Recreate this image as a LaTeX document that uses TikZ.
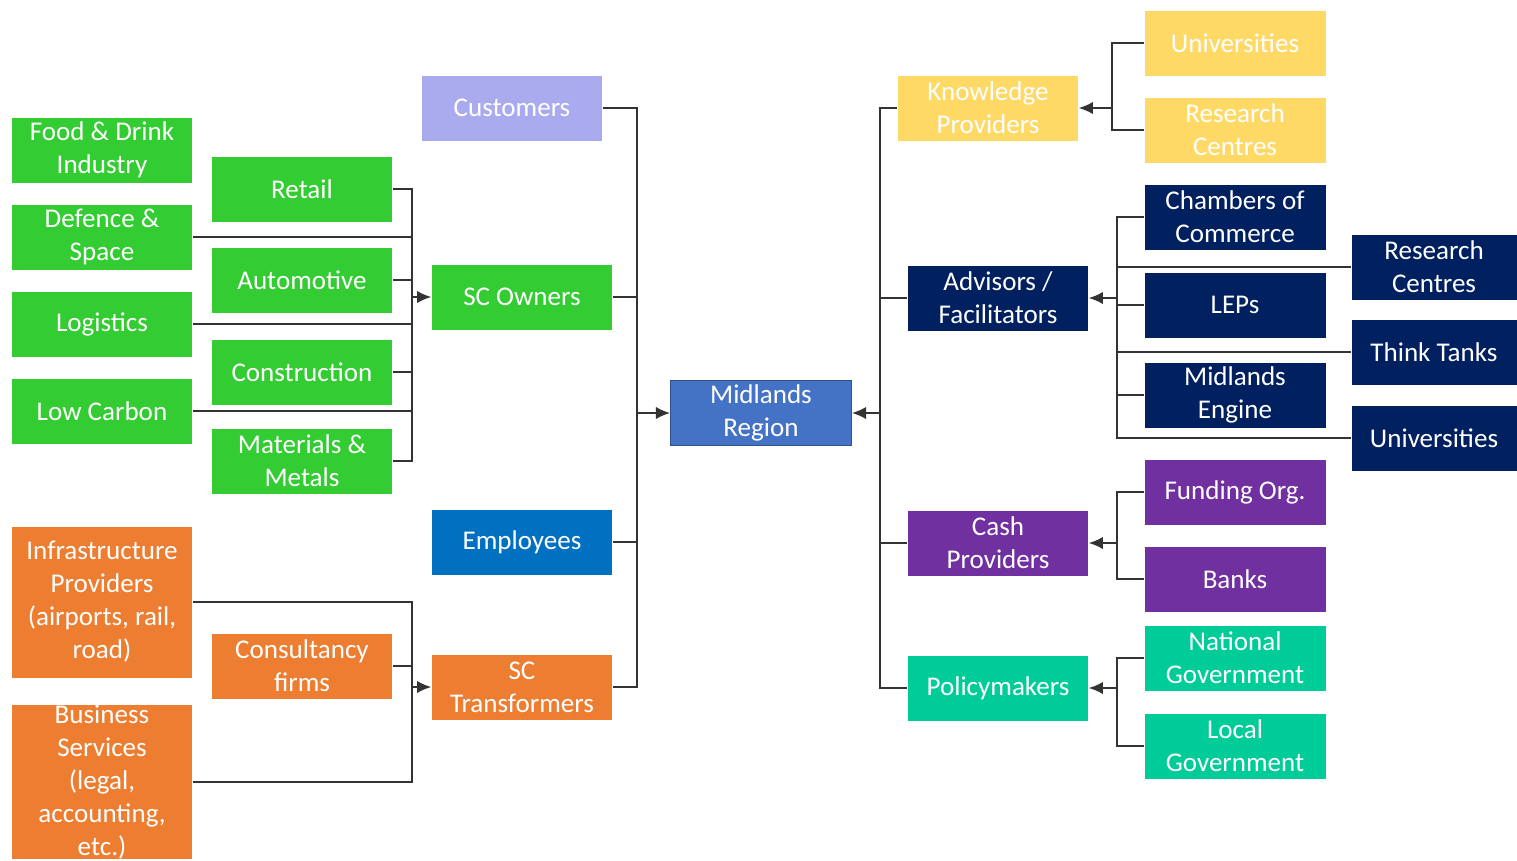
\documentclass[tikz,border=0pt]{standalone}
\usepackage{fontspec}
\setmainfont{Carlito}
\usetikzlibrary{arrows.meta}
\definecolor{scgreen}{RGB}{51,204,51}
\definecolor{sclav}{RGB}{170,170,238}
\definecolor{scblue}{RGB}{0,112,192}
\definecolor{scorange}{RGB}{237,125,49}
\definecolor{scregion}{RGB}{68,114,196}
\definecolor{scregionline}{RGB}{47,82,143}
\definecolor{scyellow}{RGB}{255,217,102}
\definecolor{scnavy}{RGB}{0,32,96}
\definecolor{scpurple}{RGB}{112,48,160}
\definecolor{scteal}{RGB}{0,204,153}
\begin{document}
\begin{tikzpicture}[x=0.02cm,y=0.02cm,
  box/.style={minimum width=3.62cm,minimum height=1.3cm,inner sep=0pt,
    align=center,text=white,font=\fontsize{15.4}{18.8}\selectfont},
  conn/.style={draw=black!80,line width=0.9pt},
  tip/.style={-{Latex[length=8pt,width=7pt]}}]
\useasboundingbox (0,0) rectangle (1517,-860);
% sectors
\node[box,fill=scgreen] (food) at (102,-150) {Food \& Drink\\Industry};
\node[box,fill=scgreen] (defence) at (102,-237) {Defence \&\\Space};
\node[box,fill=scgreen] (logistics) at (102,-324) {Logistics};
\node[box,fill=scgreen] (lowcarbon) at (102,-411) {Low Carbon};
\node[box,fill=scorange,minimum height=3.02cm] (infra) at (102,-602) {Infrastructure\\Providers\\(airports, rail,\\road)};
\node[box,fill=scorange,minimum height=3.04cm] (business) at (102,-782) {Business\\Services\\(legal,\\accounting,\\etc.)};
\node[box,fill=scgreen] (retail) at (302,-189) {Retail};
\node[box,fill=scgreen] (auto) at (302,-280) {Automotive};
\node[box,fill=scgreen] (construction) at (302,-372) {Construction};
\node[box,fill=scgreen] (metals) at (302,-461) {Materials \&\\Metals};
\node[box,fill=scorange] (consult) at (302,-666) {Consultancy\\firms};
% supply chain
\node[box,fill=sclav] (customers) at (512,-108) {Customers};
\node[box,fill=scgreen] (owners) at (522,-297) {SC Owners};
\node[box,fill=scblue] (employees) at (522,-542) {Employees};
\node[box,fill=scorange] (transformers) at (522,-687) {SC\\Transformers};
\node[box,fill=scregion,draw=scregionline,line width=0.6pt] (region) at (761,-413) {Midlands\\Region};
% support
\node[box,fill=scyellow] (knowledge) at (988,-108) {Knowledge\\Providers};
\node[box,fill=scnavy] (advisors) at (998,-298) {Advisors /\\Facilitators};
\node[box,fill=scpurple] (cash) at (998,-543) {Cash\\Providers};
\node[box,fill=scteal] (policy) at (998,-688) {Policymakers};
\node[box,fill=scyellow] (univ) at (1235,-43) {Universities};
\node[box,fill=scyellow] (rcentres) at (1235,-130) {Research\\Centres};
\node[box,fill=scnavy] (chambers) at (1235,-217) {Chambers of\\Commerce};
\node[box,fill=scnavy] (leps) at (1235,-305) {LEPs};
\node[box,fill=scnavy] (engine) at (1235,-395) {Midlands\\Engine};
\node[box,fill=scpurple] (funding) at (1235,-492) {Funding Org.};
\node[box,fill=scpurple] (banks) at (1235,-579) {Banks};
\node[box,fill=scteal] (national) at (1235,-658) {National\\Government};
\node[box,fill=scteal] (local) at (1235,-746) {Local\\Government};
\node[box,fill=scnavy,minimum width=3.3cm] (rcentres2) at (1434,-267) {Research\\Centres};
\node[box,fill=scnavy,minimum width=3.3cm] (thinktanks) at (1434,-352) {Think Tanks};
\node[box,fill=scnavy,minimum width=3.3cm] (univ2) at (1434,-438) {Universities};
% bus points
\coordinate (ownbus) at (412,-297);
\coordinate (transbus) at (412,-687);
\coordinate (leftbus) at (637,-413);
\coordinate (rightbus) at (880,-413);
\coordinate (knowbus) at (1112,-108);
\coordinate (advbus) at (1117,-298);
\coordinate (cashbus) at (1117,-543);
\coordinate (policybus) at (1117,-688);
% connectors
\foreach \n in {defence,logistics,lowcarbon,retail,auto,construction,metals}
  \draw[conn] (\n.east) -| (ownbus);
\draw[conn,tip] (ownbus) -- (owners.west);
\foreach \n in {infra,business,consult}
  \draw[conn] (\n.east) -| (transbus);
\draw[conn,tip] (transbus) -- (transformers.west);
\foreach \n in {customers,owners,employees,transformers}
  \draw[conn] (\n.east) -| (leftbus);
\draw[conn,tip] (leftbus) -- (region.west);
\foreach \n in {knowledge,advisors,cash,policy}
  \draw[conn] (\n.west) -| (rightbus);
\draw[conn,tip] (rightbus) -- (region.east);
\foreach \n in {univ,rcentres}
  \draw[conn] (\n.west) -| (knowbus);
\draw[conn,tip] (knowbus) -- (knowledge.east);
\foreach \n in {chambers,leps,engine,rcentres2,thinktanks,univ2}
  \draw[conn] (\n.west) -| (advbus);
\draw[conn,tip] (advbus) -- (advisors.east);
\foreach \n in {funding,banks}
  \draw[conn] (\n.west) -| (cashbus);
\draw[conn,tip] (cashbus) -- (cash.east);
\foreach \n in {national,local}
  \draw[conn] (\n.west) -| (policybus);
\draw[conn,tip] (policybus) -- (policy.east);
\end{tikzpicture}
\end{document}
